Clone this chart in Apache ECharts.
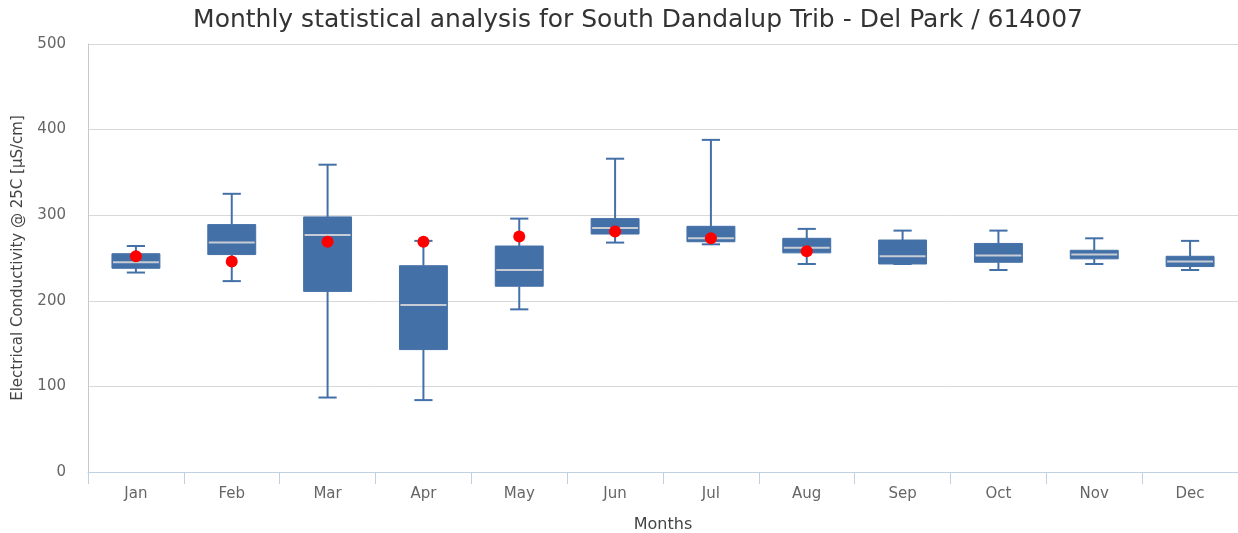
<!DOCTYPE html>
<html><head><meta charset="utf-8">
<script src="https://cdn.jsdelivr.net/npm/echarts@6/dist/echarts.min.js"></script>
<style>html,body{margin:0;padding:0;background:#fff}#c{width:1238px;height:533px}</style>
</head><body><div id="c"></div>
<script>
var months = ['Jan','Feb','Mar','Apr','May','Jun','Jul','Aug','Sep','Oct','Nov','Dec'];
var lowWhisker = [233, 223, 87, 84, 190, 268, 266, 243, 243, 236, 243, 236];
var q1 = [238, 254, 211, 143, 217, 278, 269, 256, 243, 245, 249, 240];
var median = [245, 268, 277, 195, 236, 285, 273, 262, 252, 253, 254, 246];
var q3 = [255, 289, 298, 241, 264, 296, 287, 273, 271, 267, 259, 252];
var highWhisker = [264, 325, 359, 270, 296, 366, 388, 284, 282, 282, 273, 270];
var mean = [252, 246, 269, 269, 275, 281, 273, 258, null, null, null, null];
var yTicks = [0, 100, 200, 300, 400, 500];

var boxData = months.map(function(m, i){ return [i, lowWhisker[i], q1[i], median[i], q3[i], highWhisker[i]]; });
var meanData = months.map(function(m, i){ return mean[i] == null ? null : [i, mean[i]]; }).filter(function(d){return d;});

var boxColor = '#4470a8';
var chart = echarts.init(document.getElementById('c'));
chart.setOption({
  animation: false,
  backgroundColor: '#fff',
  title: {
    text: 'Monthly statistical analysis for South Dandalup Trib - Del Park / 614007',
    left: 633, top: 3, textAlign: 'center',
    textStyle: { fontFamily: 'DejaVu Sans', fontSize: 25, fontWeight: 'normal', color: '#333' }
  },
  grid: { left: 88, right: 0, top: 44, bottom: 61, outerBoundsMode: 'none', containLabel: false },
  xAxis: {
    type: 'category', data: months,
    name: 'Months', nameLocation: 'middle', nameGap: 45,
    nameTextStyle: { fontFamily: 'DejaVu Sans', fontSize: 16, color: '#444' },
    axisLine: { lineStyle: { color: '#c0d0e0', width: 1 } },
    axisTick: { show: true, length: 12, lineStyle: { color: '#c0d0e0' } },
    axisLabel: { fontFamily: 'DejaVu Sans', fontSize: 15, color: '#666', margin: 15 },
    splitLine: { show: false }
  },
  yAxis: {
    type: 'value', min: 0, max: 500, interval: 100,
    name: 'Electrical Conductivity @ 25C [µS/cm]', nameLocation: 'middle', nameGap: 62,
    nameTextStyle: { fontFamily: 'DejaVu Sans', fontSize: 15, color: '#444' },
    axisLine: { show: true, lineStyle: { color: '#c8c8c8' } },
    axisTick: { show: false },
    axisLabel: { fontFamily: 'DejaVu Sans', fontSize: 15, color: '#666', margin: 22,
      formatter: function(v){ return yTicks.indexOf(v) >= 0 ? String(v) : ''; } },
    splitLine: { lineStyle: { color: '#d8d8d8', width: 1 } }
  },
  series: [
    {
      type: 'custom',
      data: boxData,
      encode: { x: 0, y: [1,2,3,4,5] },
      renderItem: function(params, api){
        var x = api.value(0);
        var pLow = api.coord([x, api.value(1)]);
        var pQ1 = api.coord([x, api.value(2)]);
        var pMed = api.coord([x, api.value(3)]);
        var pQ3 = api.coord([x, api.value(4)]);
        var pHigh = api.coord([x, api.value(5)]);
        var band = api.size([1, 0])[0];
        var bw = band * 0.5;
        var cw = band * 0.19;
        var cx = pMed[0];
        var ls = { stroke: boxColor, lineWidth: 2 };
        return {
          type: 'group',
          children: [
            { type: 'line', shape: { x1: cx, y1: pHigh[1], x2: cx, y2: pQ3[1] }, style: ls },
            { type: 'line', shape: { x1: cx, y1: pQ1[1], x2: cx, y2: pLow[1] }, style: ls },
            { type: 'line', shape: { x1: cx - cw/2, y1: pHigh[1], x2: cx + cw/2, y2: pHigh[1] }, style: ls },
            { type: 'line', shape: { x1: cx - cw/2, y1: pLow[1], x2: cx + cw/2, y2: pLow[1] }, style: ls },
            { type: 'rect', shape: { x: cx - bw/2, y: pQ3[1], width: bw, height: pQ1[1] - pQ3[1] },
              style: { fill: boxColor, stroke: boxColor, lineWidth: 1 } },
            { type: 'line', shape: { x1: cx - bw/2 + 1, y1: pMed[1], x2: cx + bw/2 - 1, y2: pMed[1] },
              style: { stroke: '#c8ccd4', lineWidth: 2 } }
          ]
        };
      },
      z: 2
    },
    {
      type: 'scatter',
      data: meanData,
      symbol: 'circle', symbolSize: 12,
      itemStyle: { color: '#ff0000', opacity: 1 },
      z: 3
    }
  ]
});
</script></body></html>
